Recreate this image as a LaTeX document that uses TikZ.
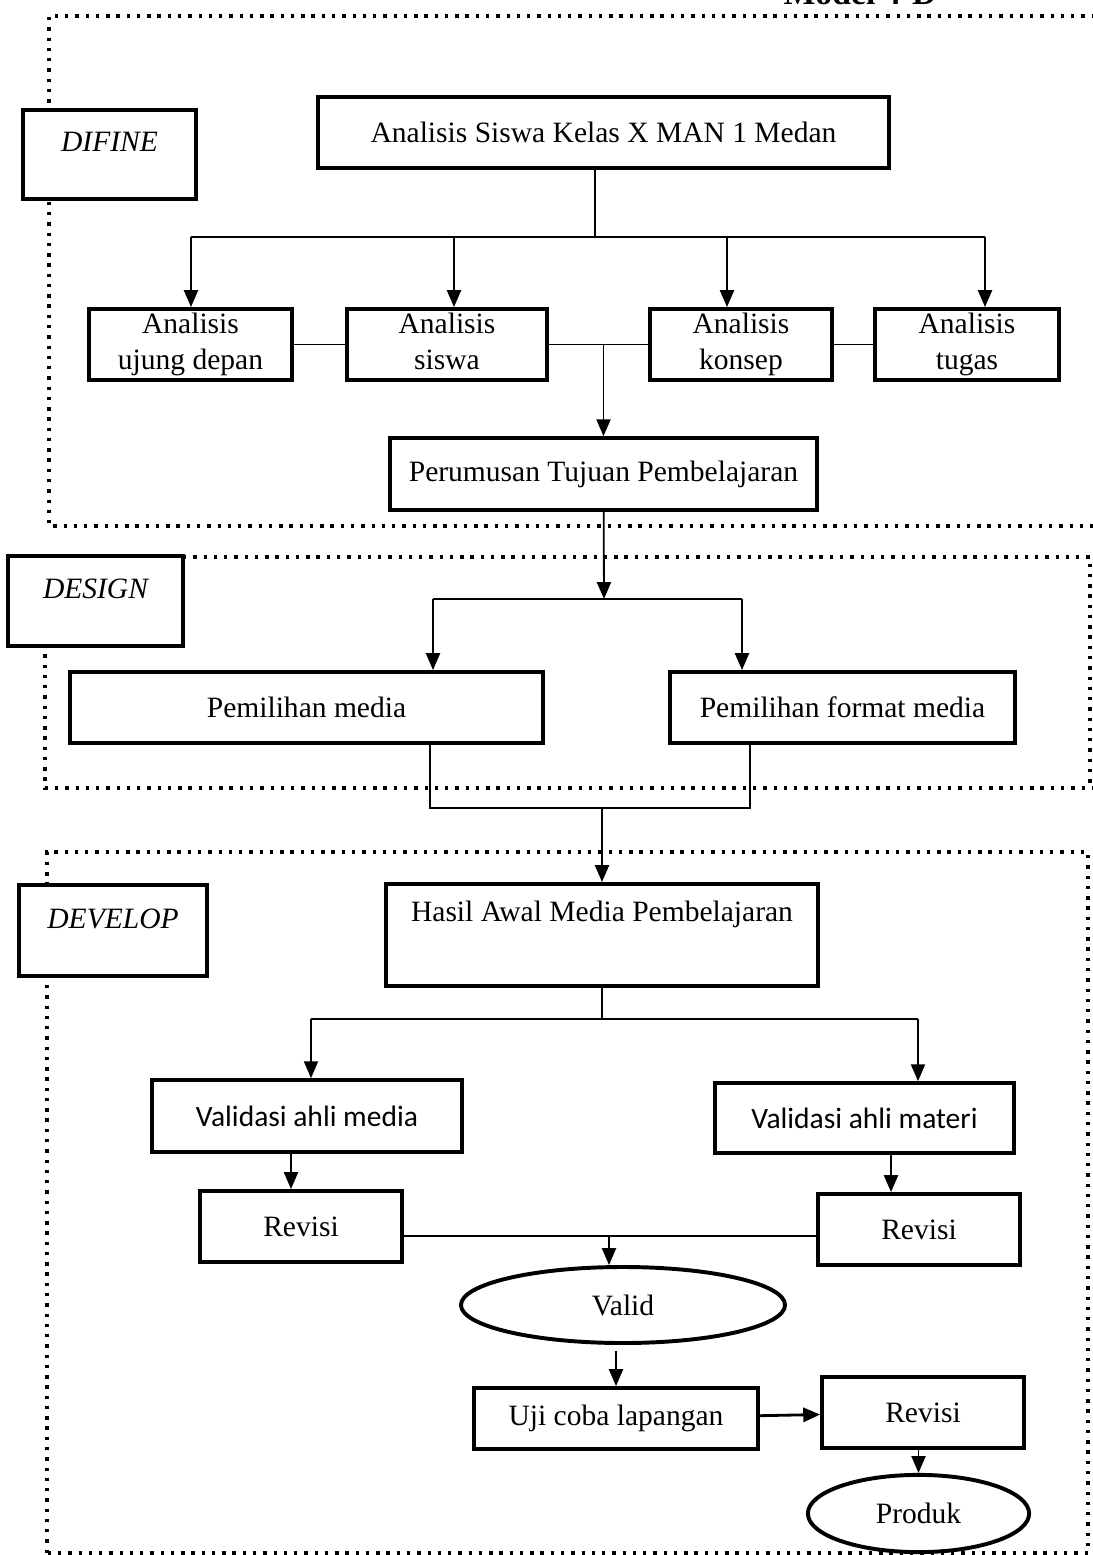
\documentclass[tikz,border=0pt]{standalone}
\usepackage{fontspec}
\setmainfont{Liberation Serif}
\newfontfamily\sanscal{Carlito}
\usetikzlibrary{arrows.meta,shapes.geometric}

\newcommand{\teks}{\fontsize{21}{26}\selectfont}

\begin{document}
\begin{tikzpicture}[x=0.025cm,y=-0.025cm,
	kotak/.style={draw,fill=white,line width=2.6pt,inner sep=0pt,minimum height=1.78cm,align=center,font=\teks},
	elips/.style={ellipse,draw,fill=white,line width=2.8pt,inner sep=0pt,font=\teks},
	tahap/.style={draw,fill=white,line width=2.8pt,inner sep=0pt,anchor=north,font=\teks\itshape,text depth=1.175cm},
	garis/.style={line width=0.8pt},
	panah/.style={line width=1.3pt,-{Triangle[length=12pt,width=10pt]}},
	titik/.style={line width=2.4pt,dash pattern=on 2.4pt off 4.9pt}]
	\useasboundingbox (0,0) rectangle (1092,1555);
	
	% frames of the three stages
	\draw[titik] (1095,16) -- (49,16) -- (49,526) -- (1095,526);
	\draw[titik] (183,557) -- (1090,557) -- (1090,788);
	\draw[titik] (45,644) -- (45,788) -- (1095,788);
	\draw[titik] (47,1553) -- (47,852) -- (1088,852) -- (1088,1553) -- cycle;
	
	\node[font=\fontsize{24}{28}\selectfont\bfseries,anchor=base] (judul) at (860,5) {Model 4-D};
	
	% define
	\node[tahap,minimum width=4.33cm,text height=1.05cm] (difine) at (109.5,108) {DIFINE};
	\node[kotak,minimum width=14.28cm] (a0) at (603.5,132.5) {Analisis Siswa Kelas X MAN 1 Medan};
	\node[kotak,minimum width=5.08cm] (b1) at (190.5,344.5) {Analisis\\ujung depan};
	\node[kotak,minimum width=5cm] (b2) at (447,344.5) {Analisis\\siswa\vphantom{p}};
	\node[kotak,minimum width=4.55cm] (b3) at (741,344.5) {Analisis\\konsep};
	\node[kotak,minimum width=4.6cm] (b4) at (967,344.5) {Analisis\\tugas};
	\node[kotak,minimum width=10.68cm,minimum height=1.8cm] (tujuan) at (603.5,474) {Perumusan Tujuan Pembelajaran};
	
	% design
	\node[tahap,minimum width=4.38cm,text height=1.075cm] (design) at (95.5,554) {DESIGN};
	\node[kotak,minimum width=11.83cm] (media) at (306.5,707.5) {Pemilihan media};
	\node[kotak,minimum width=8.63cm] (format) at (842.5,707.5) {Pemilihan format media};
	
	% develop
	\node[tahap,minimum width=4.7cm,text height=1.1cm] (develop) at (113,883) {DEVELOP};
	\node[kotak,anchor=north,minimum width=10.8cm,text height=0.95cm,text depth=1.6cm] (hasil) at (602,882) {Hasil Awal Media Pembelajaran};
	\node[kotak,minimum width=7.75cm,minimum height=1.8cm,font=\sanscal\teks] (valmedia) at (307,1116) {Validasi ahli media};
	\node[kotak,minimum width=7.48cm,minimum height=1.75cm,font=\sanscal\teks] (valmateri) at (864.5,1118) {Validasi ahli materi};
	\node[kotak,minimum width=5.05cm] (rev1) at (301,1226.5) {Revisi};
	\node[kotak,minimum width=5.05cm] (rev2) at (919,1229.5) {Revisi};
	\node[elips,minimum width=8.1cm,minimum height=1.9cm] (valid) at (623,1305) {Valid};
	\node[kotak,minimum width=7.1cm,minimum height=1.53cm] (uji) at (616,1418.5) {Uji coba lapangan};
	\node[kotak,minimum width=5.05cm] (rev3) at (923,1412.5) {Revisi};
	\node[elips,minimum width=5.53cm,minimum height=1.93cm] (produk) at (918.5,1513.5) {Produk};
	
	% connectors
	\coordinate (j1) at (595,237);
	\coordinate (k1) at (191,237);
	\coordinate (k2) at (454,237);
	\coordinate (k3) at (727,237);
	\coordinate (k4) at (985,237);
	\draw[garis] (a0.south -| j1) -- (j1);
	\draw[garis] (k1) -- (k4);
	\draw[panah] (k1) -- (k1 |- b1.north);
	\draw[panah] (k2) -- (k2 |- b2.north);
	\draw[panah] (k3) -- (k3 |- b3.north);
	\draw[panah] (k4) -- (k4 |- b4.north);
	\draw[garis] (b1) -- (b2);
	\draw[garis] (b2) -- (b3);
	\draw[garis] (b3) -- (b4);
	\draw[panah] (tujuan.north |- b2) -- (tujuan.north);
	
	\coordinate (j2) at (604,599);
	\coordinate (k5) at (433,599);
	\coordinate (k6) at (742,599);
	\draw[panah] (tujuan) -- (j2);
	\draw[garis] (k5) -- (k6);
	\draw[panah] (k5) -- (k5 |- media.north);
	\draw[panah] (k6) -- (k6 |- format.north);
	
	\coordinate (k7) at (430,808);
	\coordinate (k8) at (750,808);
	\draw[garis] (k7 |- media.south) -- (k7) -- (k8) -- (k8 |- format.south);
	\draw[panah] (hasil.north |- k7) -- (hasil.north);
	
	\coordinate (k9) at (311,1019);
	\coordinate (k10) at (918,1019);
	\draw[garis] (hasil.south) -- (hasil.south |- k9);
	\draw[garis] (k9) -- (k10);
	\draw[panah] (k9) -- (k9 |- valmedia.north);
	\draw[panah] (k10) -- (k10 |- valmateri.north);
	
	\coordinate (k11) at (291,1170);
	\coordinate (k12) at (891,1170);
	\draw[panah] (k11 |- valmedia.south) -- (k11 |- rev1.north);
	\draw[panah] (k12 |- valmateri.south) -- (k12 |- rev2.north);
	
	\coordinate (k13) at (609,1236);
	\draw[garis] (rev1.east |- k13) -- (rev2.west |- k13);
	\draw[panah] (k13) -- (k13 |- valid.north);
	\draw[panah,shorten <=0.15cm] (uji.north |- valid.south) -- (uji.north);
	\draw[panah,line width=2pt] (uji) -- (rev3);
	\draw[panah] (rev3.south -| produk) -- (produk.north);
\end{tikzpicture}
\end{document}
